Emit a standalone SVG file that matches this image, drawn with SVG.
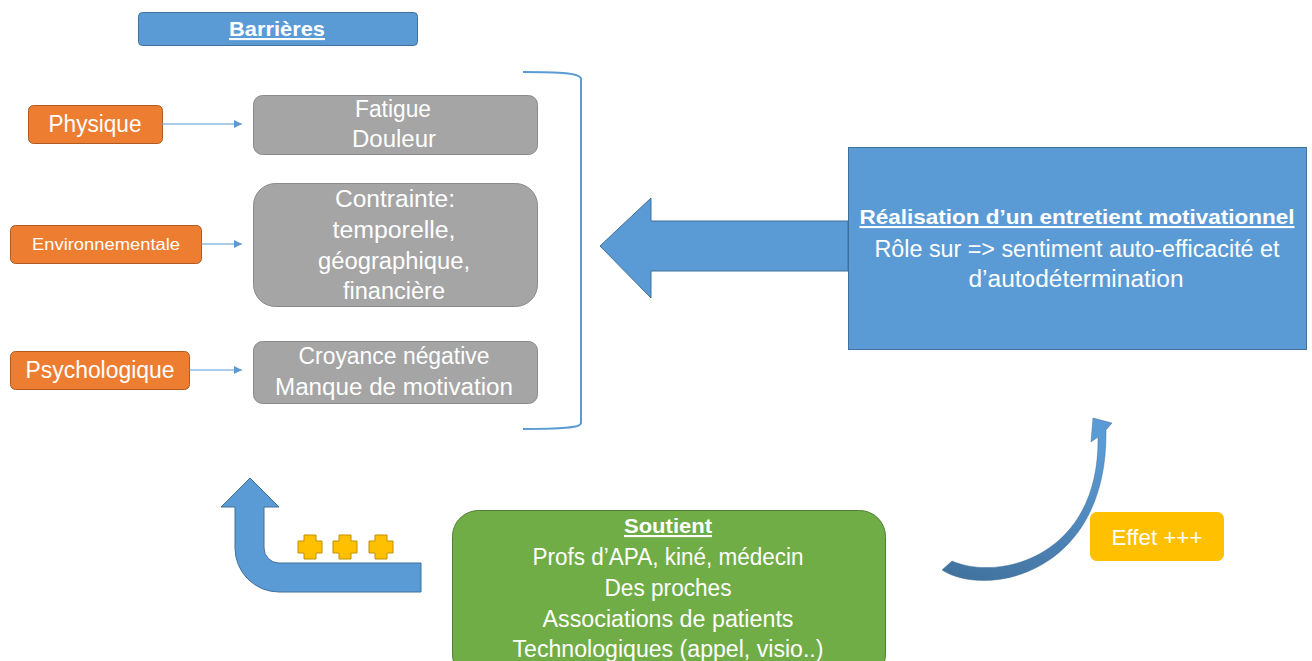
<svg xmlns="http://www.w3.org/2000/svg" width="1312" height="661" viewBox="0 0 1312 661">
<style>
text{font-family:"Liberation Sans",Arial,sans-serif;fill:#ffffff;text-anchor:middle}
.t23{font-size:23px}
.b{font-weight:bold;text-decoration:underline}
.gray{fill:#a5a5a5;stroke:#8a8a8a;stroke-width:1}
.orange{fill:#ed7d31;stroke:#ae5a21;stroke-width:1}
.blue{fill:#5b9bd5;stroke:#41719c;stroke-width:1}
.green{fill:#70ad47;stroke:#507e32;stroke-width:1}
.yellow{fill:#ffc000;stroke:#ffc000;stroke-width:1}
.conn{stroke:#5b9bd5;stroke-width:1.2;fill:none}
</style>
<defs>
<marker id="ah" viewBox="0 0 10 10" refX="10" refY="5" markerWidth="8" markerHeight="8" markerUnits="userSpaceOnUse" orient="auto">
<path d="M0,0 L10,5 L0,10 z" fill="#5b9bd5"/>
</marker>
<path id="plus" d="M-6,-12 h12 v6 h6 v12 h-6 v6 h-12 v-6 h-6 v-12 h6 z" fill="#ffc000" stroke="#c09000" stroke-width="1" stroke-linejoin="round"/>
<linearGradient id="cg" x1="0" y1="1" x2="0.3" y2="0">
<stop offset="0" stop-color="#41719c"/>
<stop offset="1" stop-color="#5b9bd5"/>
</linearGradient>
</defs>

<g id="barrieres">
<rect x="138.5" y="12.5" width="279" height="33" rx="4" class="blue"/>
<text x="277" y="36" font-size="21" class="b" textLength="96" lengthAdjust="spacingAndGlyphs">Barrières</text>
</g>

<g id="physique">
<rect x="28.5" y="105.5" width="134" height="38" rx="5" class="orange"/>
<text x="95" y="132" class="t23" textLength="93" lengthAdjust="spacingAndGlyphs">Physique</text>
</g>
<g id="environnementale">
<rect x="10.5" y="225.5" width="191" height="38" rx="5" class="orange"/>
<text x="106" y="250" font-size="17" textLength="148" lengthAdjust="spacingAndGlyphs">Environnementale</text>
</g>
<g id="psychologique">
<rect x="10.5" y="351.5" width="179" height="38" rx="5" class="orange"/>
<text x="100" y="378" class="t23" textLength="149" lengthAdjust="spacingAndGlyphs">Psychologique</text>
</g>

<g id="fatigue">
<rect x="253.5" y="95.5" width="284" height="59" rx="9" class="gray"/>
<text x="393" y="117" class="t23" textLength="76" lengthAdjust="spacingAndGlyphs">Fatigue</text>
<text x="394" y="147" class="t23" textLength="84" lengthAdjust="spacingAndGlyphs">Douleur</text>
</g>
<g id="contrainte">
<rect x="253.5" y="183.5" width="284" height="123" rx="22" class="gray"/>
<text x="395" y="207" class="t23" textLength="120" lengthAdjust="spacingAndGlyphs">Contrainte:</text>
<text x="394" y="238" class="t23" textLength="123" lengthAdjust="spacingAndGlyphs">temporelle,</text>
<text x="394" y="269" class="t23" textLength="152" lengthAdjust="spacingAndGlyphs">géographique,</text>
<text x="394" y="299" class="t23" textLength="102" lengthAdjust="spacingAndGlyphs">financière</text>
</g>
<g id="croyance">
<rect x="253.5" y="341.5" width="284" height="62" rx="9" class="gray"/>
<text x="394" y="364" class="t23" textLength="191" lengthAdjust="spacingAndGlyphs">Croyance négative</text>
<text x="394" y="395" class="t23" textLength="238" lengthAdjust="spacingAndGlyphs">Manque de motivation</text>
</g>

<g id="entretien">
<rect x="848.5" y="147.5" width="458" height="202" class="blue"/>
<text x="1077" y="224" font-size="21" class="b" textLength="435" lengthAdjust="spacingAndGlyphs">Réalisation d’un entretient motivationnel</text>
<text x="1077" y="257" class="t23" textLength="405" lengthAdjust="spacingAndGlyphs">Rôle sur =&gt; sentiment auto-efficacité et</text>
<text x="1076" y="287" class="t23" textLength="215" lengthAdjust="spacingAndGlyphs">d’autodétermination</text>
</g>

<g id="soutient">
<rect x="452.5" y="510.5" width="433" height="170" rx="26" class="green"/>
<text x="668" y="533" font-size="21" class="b" textLength="88" lengthAdjust="spacingAndGlyphs">Soutient</text>
<text x="668" y="565" class="t23" textLength="271" lengthAdjust="spacingAndGlyphs">Profs d’APA, kiné, médecin</text>
<text x="668" y="596" class="t23" textLength="127" lengthAdjust="spacingAndGlyphs">Des proches</text>
<text x="668" y="627" class="t23" textLength="251" lengthAdjust="spacingAndGlyphs">Associations de patients</text>
<text x="668" y="657" class="t23" textLength="311" lengthAdjust="spacingAndGlyphs">Technologiques (appel, visio..)</text>
</g>

<g id="effet">
<rect x="1090.5" y="512.5" width="133" height="48" rx="6" class="yellow"/>
<text x="1157" y="545" font-size="22" textLength="91" lengthAdjust="spacingAndGlyphs">Effet +++</text>
</g>

<g id="connectors">
<line x1="162" y1="124" x2="242" y2="124" class="conn" marker-end="url(#ah)"/>
<line x1="201" y1="244" x2="242" y2="244" class="conn" marker-end="url(#ah)"/>
<line x1="189" y1="370" x2="242" y2="370" class="conn" marker-end="url(#ah)"/>
<path d="M523,72 C560,72 581,73 581,79 L581,423 C581,428 560,429 523,429" fill="none" stroke="#5b9bd5" stroke-width="2"/>
<path d="M600,246 L651,198 L651,221 L848,221 L848,271 L651,271 L651,298 Z" class="blue"/>
<path d="M421,563 L279,563 A15,15 0 0 1 264,548 L264,507 L279,507 L250,478 L221,507 L235,507 L235,548 A44,44 0 0 0 279,592 L421,592 Z" class="blue"/>
<use href="#plus" x="310" y="547"/>
<use href="#plus" x="345" y="547"/>
<use href="#plus" x="381" y="547"/>
<path d="M942,570 C985,598 1108,576 1106,430 L1112,423 L1093,418 L1091,442 L1098,437 C1100,556 1000,582 952,561 Z" fill="url(#cg)" stroke="#41719c" stroke-width="0.5"/>
</g>
</svg>
